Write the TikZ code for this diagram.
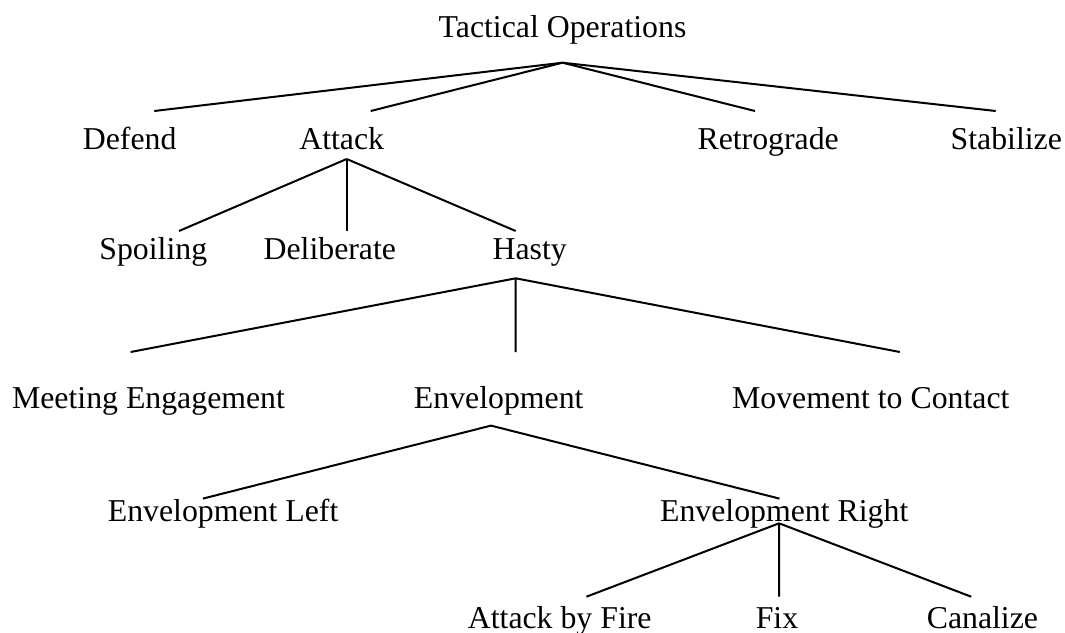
\documentclass[tikz,border=0pt]{standalone}
\usepackage{fontspec}
\setmainfont{Liberation Serif}
\usetikzlibrary{positioning}

\begin{document}
\begin{tikzpicture}[x=0.5pt,y=-0.5pt,line width=1pt,
    op/.style={anchor=base,inner sep=0pt,font=\fontsize{15.9}{19}\selectfont}]
  \useasboundingbox (0,0) rectangle (1065,632);
  % level 0 and 1
  \node[op] (tactops) at (562.5,37.7) {Tactical Operations};
  \node[op] (defend) at (129.7,149) {Defend};
  \node[op] (attack) at (341.7,149) {Attack};
  \node[op] (retro) at (768.2,149) {Retrograde};
  \node[op] (stab) at (1006.3,149) {Stabilize};
  % attack kinds
  \node[op] (spoil) at (153.3,259.3) {Spoiling};
  \node[op] (delib) at (329.8,259.3) {Deliberate};
  \node[op] (hasty) at (529.7,259.3) {Hasty};
  % hasty kinds
  \node[op] (meet) at (148.5,408) {Meeting Engagement};
  \node[op] (envel) at (498.7,408) {Envelopment};
  \node[op] (movec) at (870.8,408) {Movement to Contact};
  \node[op] (envleft) at (223.1,521.4) {Envelopment Left};
  \node[op] (envright) at (784.2,521.4) {Envelopment Right};
  \node[op] (abf) at (559.7,628.5) {Attack by Fire};
  \node[op] (fix) at (777,628.5) {Fix};
  \node[op] (canal) at (982.4,628.5) {Canalize};

  \draw ([shift={(0,25)}]tactops.base) -- ([shift={(24.6,-38)}]defend.base);
  \draw ([shift={(0,25)}]tactops.base) -- ([shift={(29,-38)}]attack.base);
  \draw ([shift={(0,25)}]tactops.base) -- ([shift={(-13.2,-38)}]retro.base);
  \draw ([shift={(0,25)}]tactops.base) -- ([shift={(-10.6,-38)}]stab.base);
  \draw ([shift={(5,10)}]attack.base) -- ([shift={(25.7,-28.3)}]spoil.base);
  \draw ([shift={(5,10)}]attack.base) -- ([shift={(16.9,-28.3)}]delib.base);
  \draw ([shift={(5,10)}]attack.base) -- ([shift={(-14,-28.3)}]hasty.base);
  \draw ([shift={(-14,19)}]hasty.base) -- ([shift={(-17.9,-56)}]meet.base);
  \draw ([shift={(-14,19)}]hasty.base) -- ([shift={(16.8,-56)}]envel.base);
  \draw ([shift={(-14,19)}]hasty.base) -- ([shift={(29,-56)}]movec.base);
  \draw ([shift={(-7.7,17.6)}]envel.base) -- ([shift={(-20.2,-22.8)}]envleft.base);
  \draw ([shift={(-7.7,17.6)}]envel.base) -- ([shift={(-4.7,-22.8)}]envright.base);
  \draw ([shift={(-5.1,1.9)}]envright.base) -- ([shift={(26.7,-31.8)}]abf.base);
  \draw ([shift={(-5.1,1.9)}]envright.base) -- ([shift={(2.1,-31.8)}]fix.base);
  \draw ([shift={(-5.1,1.9)}]envright.base) -- ([shift={(-11.2,-31.8)}]canal.base);
\end{tikzpicture}
\end{document}
